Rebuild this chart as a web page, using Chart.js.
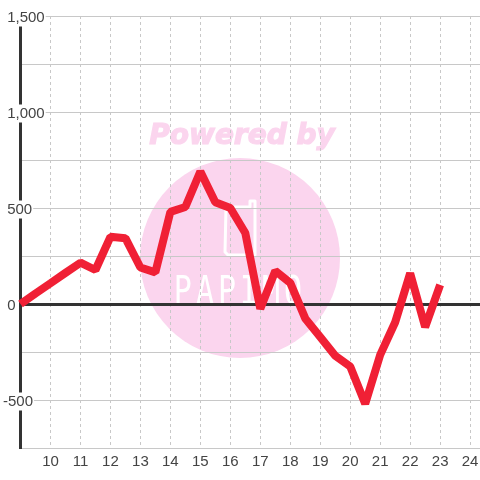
<!DOCTYPE html>
<html lang="en">
<head>
<meta charset="UTF-8">
<title>Chart</title>
<script src="https://cdn.jsdelivr.net/npm/chart.js"></script>
<style>
    html, body { margin: 0; padding: 0; background: #fff; }
    #wrap { width: 480px; height: 480px; }
</style>
</head>
<body>
<div id="wrap"><canvas id="chart" width="480" height="480"></canvas></div>
<script>
const xValues = [9, 9.5, 10, 10.5, 11, 11.5, 12, 12.5, 13, 13.5, 14, 14.5, 15, 15.5, 16, 16.5, 17, 17.5, 18, 18.5, 19, 19.5, 20, 20.5, 21, 21.5, 22, 22.5, 23];
const yValues = [0, 55, 108, 162, 215, 177, 350, 343, 190, 165, 480, 505, 690, 530, 500, 370, -25, 172, 110, -75, -172, -270, -325, -520, -265, -95, 160, -120, 100];
const xTicks = [10, 11, 12, 13, 14, 15, 16, 17, 18, 19, 20, 21, 22, 23, 24];
const yLabelled = [-500, 0, 500, 1000, 1500];

const pink = '#fbd5ee';

// watermark sits under the grid
const watermark = {
    id: 'watermark',
    beforeDraw(chart) {
        const c = chart.ctx;
        c.save();
        c.fillStyle = '#ffffff';
        c.fillRect(0, 0, 480, 480);
        c.fillStyle = pink;
        c.strokeStyle = pink;
        c.lineWidth = 1.2;
        c.font = 'italic bold 28px "DejaVu Sans"';
        c.textAlign = 'center';
        c.textBaseline = 'middle';
        c.fillText('Powered by', 242, 137);
        c.strokeText('Powered by', 242, 137);
        c.beginPath();
        c.arc(240, 258, 100, 0, Math.PI * 2);
        c.fill();
        // cup outline
        c.strokeStyle = '#ffffff';
        c.lineWidth = 3;
        c.lineJoin = 'round';
        c.lineCap = 'round';
        c.beginPath();
        c.moveTo(226, 207);
        c.lineTo(250, 207);
        c.lineTo(250, 201);
        c.lineTo(255, 201);
        c.lineTo(255, 255);
        c.lineTo(228, 255);
        c.lineTo(225, 252);
        c.closePath();
        c.stroke();
        // logo lettering
        c.fillStyle = '#ffffff';
        c.font = '30px "DejaVu Sans Mono"';
        c.letterSpacing = '4px';
        c.textBaseline = 'alphabetic';
        c.translate(240, 304);
        c.scale(1, 1.3);
        c.fillText('PAPIMO', 0, 0);
        c.restore();
    }
};

new Chart(document.getElementById('chart'), {
    type: 'line',
    data: {
        datasets: [{
            data: xValues.map((x, i) => ({ x: x, y: yValues[i] })),
            borderColor: '#f02035',
            borderWidth: 8,
            borderJoinStyle: 'bevel',
            borderCapStyle: 'butt',
            pointRadius: 0,
            tension: 0,
            fill: false,
            clip: false
        }]
    },
    options: {
        responsive: false,
        animation: false,
        layout: { padding: { top: 16, left: 0, right: 0, bottom: 0 } },
        plugins: { legend: { display: false }, tooltip: { enabled: false } },
        scales: {
            x: {
                type: 'linear',
                min: 9,
                max: 24.33,
                afterBuildTicks: (axis) => { axis.ticks = xTicks.map(v => ({ value: v })); },
                afterFit: (axis) => {
                    axis.height = 32;
                    axis.paddingLeft = 0;
                    axis.paddingRight = 0;
                },
                grid: { color: '#c8c8c8', lineWidth: 1, drawTicks: false, tickLength: 0 },
                border: { display: false, dash: [3, 3] },
                ticks: {
                    autoSkip: false,
                    maxRotation: 0,
                    padding: 5,
                    color: '#444444',
                    font: { family: '"Liberation Sans"', size: 15 },
                    callback: (v) => String(v)
                }
            },
            y: {
                min: -750,
                max: 1500,
                afterFit: (axis) => {
                    axis.width = 20.5;
                    axis.paddingTop = 0;
                    axis.paddingBottom = 0;
                },
                grid: {
                    drawTicks: false,
                    tickLength: 0,
                    color: (ctx) => ctx.tick && ctx.tick.value === 0 ? '#333333' : '#c8c8c8',
                    lineWidth: (ctx) => ctx.tick && ctx.tick.value === 0 ? 3 : 1
                },
                border: { display: true, color: '#333333', width: 3 },
                ticks: {
                    stepSize: 250,
                    autoSkip: false,
                    mirror: true,
                    padding: -17.5,
                    labelOffset: 1.5,
                    color: '#444444',
                    font: { family: '"Liberation Sans"', size: 15 },
                    showLabelBackdrop: true,
                    backdropColor: '#ffffff',
                    backdropPadding: { top: 0, bottom: 0, left: 0, right: 1 },
                    callback: (v) => {
                        if (!yLabelled.includes(v)) return '';
                        const s = v.toLocaleString('en-US');
                        return v < 0 ? s : ' ' + s;
                    }
                }
            }
        }
    },
    plugins: [watermark]
});
</script>
</body>
</html>
